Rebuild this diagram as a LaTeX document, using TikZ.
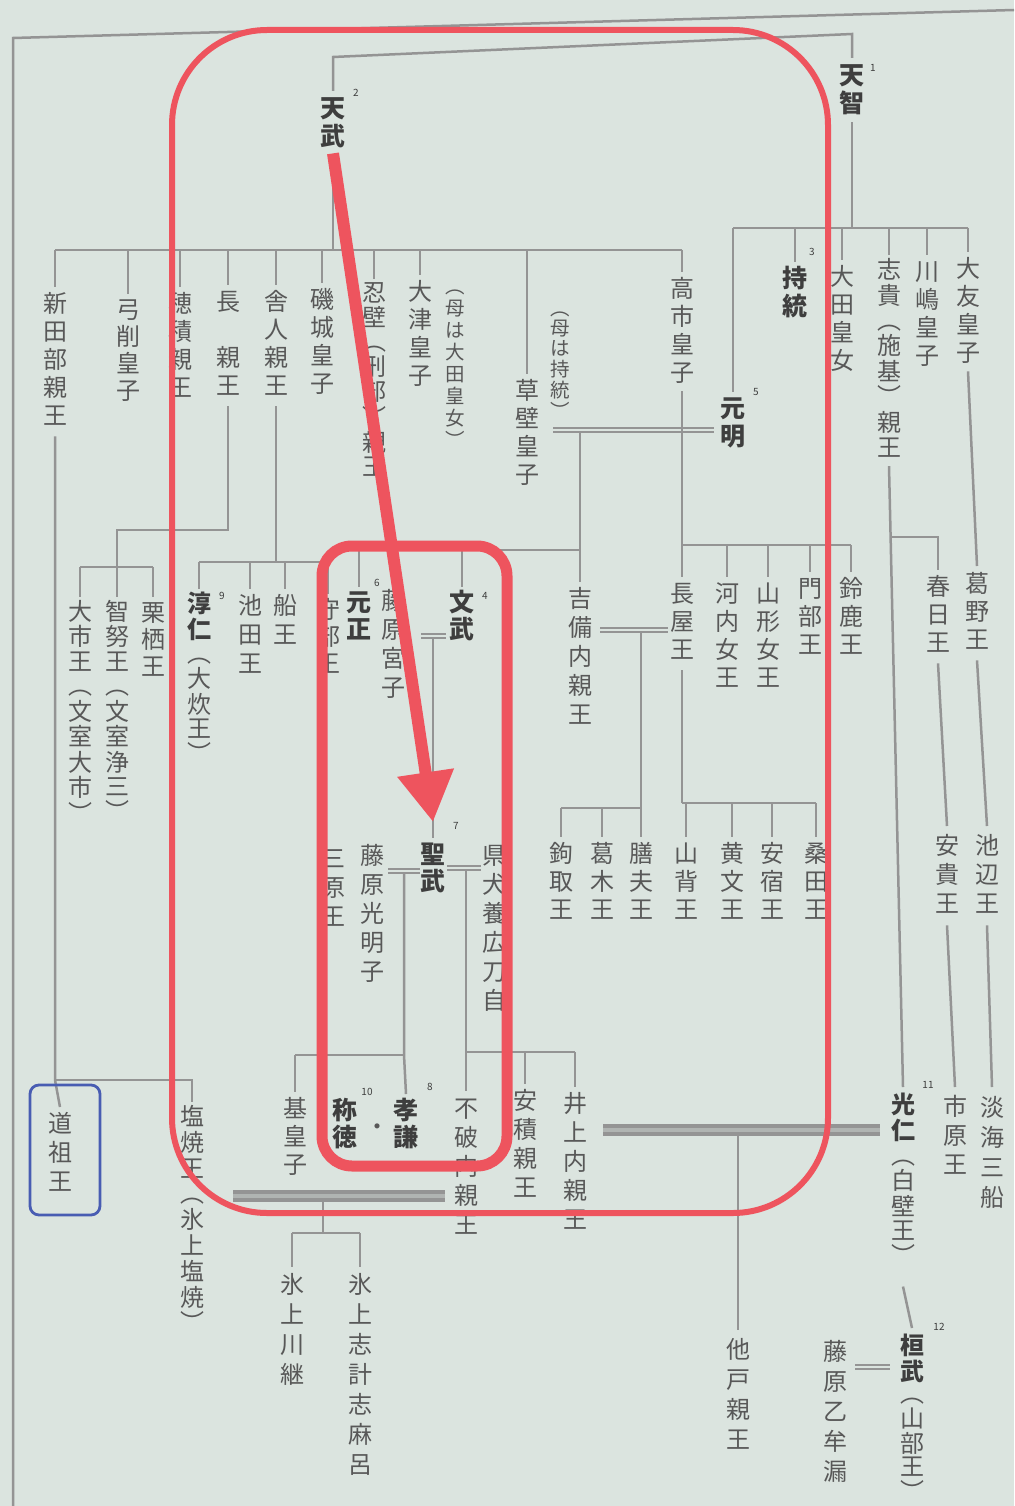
\documentclass[tikz,border=0pt]{standalone}
\usepackage{fontspec}
\newfontfamily\jp{Noto Sans CJK JP}
\usetikzlibrary{arrows.meta}
\definecolor{bg}{RGB}{219,228,223}
\definecolor{txtgray}{RGB}{88,88,88}
\definecolor{txtdark}{RGB}{62,62,62}
\definecolor{lngray}{RGB}{148,148,148}
\definecolor{redln}{RGB}{238,84,94}
\definecolor{boxblue}{RGB}{72,92,178}
\ExplSyntaxOn
\dim_new:N \l_tate_pitch_dim
\dim_set:Nn \l_tate_pitch_dim {28pt}
\NewDocumentCommand \tc { m }
  {
    \tl_map_inline:nn {#1}
      {
        \hbox_to_wd:nn { 1.05em }
          { \hss \vrule width 0pt height 0.78\l_tate_pitch_dim depth 0.22\l_tate_pitch_dim \relax ##1 \hss }
      }
  }
\NewDocumentCommand \col { O{28pt} m }
  {
    \vbox:n { \offinterlineskip \dim_set:Nn \l_tate_pitch_dim {#1} #2 }
  }
\ExplSyntaxOff
\tikzset{
  nm/.style={anchor=north, inner sep=0pt, text=txtgray, font=\jp\fontsize{24}{28}\selectfont},
  sm/.style={nm, font=\jp\fontsize{19.5}{22}\selectfont},
  emp/.style={nm, text=txtdark, font=\jp\bfseries\fontsize{25}{28}\selectfont},
  supn/.style={inner sep=0pt, text=txtdark, font=\jp\fontsize{10}{10}\selectfont},
  ln/.style={draw=lngray, line width=2.5pt},
  mar/.style={draw=lngray, line width=1.8pt, double=bg, double distance=2.6pt},
  band/.style={draw=lngray, line width=3.4pt, double=lngray!60!bg, double distance=4.5pt},
  redbox/.style={draw=redln, inner sep=0pt},
}
\newcommand\kdrop[2]{\draw[ln] (#2.north |- #1) -- ([yshift=3pt]#2.north);}
\begin{document}
\begin{tikzpicture}[x=1pt,y=-1pt]
\useasboundingbox (0,0) rectangle (1014,1506);
\clip (0,0) rectangle (1014,1506);
\fill[bg] (0,0) rectangle (1014,1506);

% ---------- nodes: generation 1 ----------
\node[emp] (tenji) at (852,62) {\col{\tc{天智}}};
\node[supn] (s1) at (873,68) {1};
\node[emp] (tenmu) at (333,95) {\col{\tc{天武}}};
\node[supn] (s2) at (356,93) {2};

% ---------- Tenmu's children ----------
\node[nm] (nitabe) at (55,290) {\col{\tc{新田部親王}}};
\node[nm] (yuge) at (128,297) {\col[27pt]{\tc{弓削皇子}}};
\node[nm] (hozumi) at (180,290) {\col{\tc{穂積親王}}};
\node[nm] (naga) at (228,288) {\col{\tc{長　親王}}};
\node[nm] (toneri) at (276,288) {\col{\tc{舎人親王}}};
\node[nm] (shikiko) at (322,286) {\col{\tc{磯城皇子}}};
\node[nm] (osakabe) at (374,282) {\col[24pt]{\tc{忍壁︵刑部︶親王}}};
\node[nm] (otsu) at (420,278) {\col{\tc{大津皇子}}};
\node[sm] (otsuhaha) at (455,276) {\col[22pt]{\tc{︵母は大田皇女︶}}};
\node[nm] (kusakabe) at (527,377) {\col{\tc{草壁皇子}}};
\node[sm] (kusahaha) at (560,300) {\col[20pt]{\tc{︵母は持統︶}}};
\node[nm] (takechi) at (682,275) {\col{\tc{高市皇子}}};

% ---------- Tenji's children ----------
\node[emp] (genmei) at (733,395) {\col{\tc{元明}}};
\node[supn] (s5) at (756,392) {5};
\node[emp] (jito) at (795,265) {\col{\tc{持統}}};
\node[supn] (s3) at (812,252) {3};
\node[nm] (ota) at (842,263) {\col{\tc{大田皇女}}};
\node[nm] (shikimiko) at (889,258) {\col[25pt]{\tc{志貴︵施基︶親王}}};
\node[nm] (kawashima) at (927,258) {\col{\tc{川嶋皇子}}};
\node[nm] (otomo) at (968,255) {\col{\tc{大友皇子}}};

% ---------- third row ----------
\node[nm] (oichi) at (80,600) {\col[24.3pt]{\tc{大市王︵文室大市︶}}};
\node[nm] (chinu) at (117,600) {\col[24.3pt]{\tc{智努王︵文室浄三︶}}};
\node[nm] (kurusu) at (153,600) {\col[27pt]{\tc{栗栖王}}};
\node[nm] (junnin) at (199,592) {\col[24pt]{\bfseries\color{txtdark}\tc{淳仁}\mdseries\color{txtgray}\tc{︵大炊王︶}}};
\node[supn] (s9) at (222,596) {9};
\node[nm] (ikeda) at (250,592) {\col[29pt]{\tc{池田王}}};
\node[nm] (funa) at (285,592) {\col[29pt]{\tc{船王}}};
\node[nm] (morobe) at (328,597) {\col[27pt]{\tc{守部王}}};
\node[emp] (gensho) at (359,590) {\col[27pt]{\tc{元正}}};
\node[supn] (s6) at (377,583) {6};
\node[nm] (miyako) at (393,587) {\col[29pt]{\tc{藤原宮子}}};
\node[emp] (monmu) at (462,590) {\col[27pt]{\tc{文武}}};
\node[supn] (s4) at (485,596) {4};
\node[nm] (kibi) at (580,585) {\col[29pt]{\tc{吉備内親王}}};
\node[nm] (nagaya) at (682,580) {\col{\tc{長屋王}}};
\node[nm] (kawachi) at (727,580) {\col{\tc{河内女王}}};
\node[nm] (yamagata) at (768,580) {\col{\tc{山形女王}}};
\node[nm] (kadobe) at (810,575) {\col{\tc{門部王}}};
\node[nm] (suzuka) at (851,575) {\col{\tc{鈴鹿王}}};
\node[nm] (kasuga) at (938,573) {\col{\tc{春日王}}};
\node[nm] (kadono) at (977,570) {\col{\tc{葛野王}}};

% ---------- fourth row ----------
\node[nm] (magari) at (561,840) {\col{\tc{鉤取王}}};
\node[nm] (kazuraki) at (602,840) {\col{\tc{葛木王}}};
\node[nm] (kashiwade) at (641,840) {\col{\tc{膳夫王}}};
\node[nm] (yamashiro) at (686,840) {\col{\tc{山背王}}};
\node[nm] (kibumi) at (732,840) {\col{\tc{黄文王}}};
\node[nm] (asukabe) at (772,840) {\col{\tc{安宿王}}};
\node[nm] (kuwata) at (816,840) {\col{\tc{桑田王}}};
\node[nm] (aki) at (947,832) {\col[29pt]{\tc{安貴王}}};
\node[nm] (ikebe) at (987,832) {\col[29pt]{\tc{池辺王}}};
\node[nm] (mihara) at (333,845) {\col[29pt]{\tc{三原王}}};
\node[nm] (komyo) at (372,842) {\col[29pt]{\tc{藤原光明子}}};
\node[emp] (shomu) at (433,842) {\col[27pt]{\tc{聖武}}};
\node[supn] (s7) at (456,826) {7};
\node[nm] (hirotoji) at (494,842) {\col[29pt]{\tc{県犬養広刀自}}};

% ---------- fifth row ----------
\node[nm] (dosono) at (60,1110) {\col[29pt]{\tc{道祖王}}};
\node[nm] (shioyaki) at (192,1105) {\col[25.8pt]{\tc{塩焼王︵氷上塩焼︶}}};
\node[nm] (motoo) at (295,1095) {\col{\tc{基皇子}}};
\node[emp] (shotoku) at (345,1098) {\col[27pt]{\tc{称徳}}};
\node[supn] (s10) at (367,1092) {10};
\node[nm] (nakaguro) at (377,1124) {・};
\node[emp] (koken) at (406,1098) {\col[27pt]{\tc{孝謙}}};
\node[supn] (s8) at (430,1087) {8};
\node[nm] (fuwa) at (466,1095) {\col[29pt]{\tc{不破内親王}}};
\node[nm] (asaka) at (525,1087) {\col[29pt]{\tc{安積親王}}};
\node[nm] (inoue) at (575,1090) {\col[29pt]{\tc{井上内親王}}};
\node[nm] (konin) at (903,1093) {\col[24.5pt]{\bfseries\color{txtdark}\tc{光仁}\mdseries\color{txtgray}\tc{︵白壁王︶}}};
\node[supn] (s11) at (928,1085) {11};
\node[nm] (ichihara) at (955,1093) {\col[29pt]{\tc{市原王}}};
\node[nm] (mifune) at (992,1093) {\col[30pt]{\tc{淡海三船}}};

% ---------- sixth row ----------
\node[nm] (kawatsugu) at (292,1270) {\col[30pt]{\tc{氷上川継}}};
\node[nm] (shikeshi) at (360,1270) {\col[30pt]{\tc{氷上志計志麻呂}}};
\node[nm] (osabe) at (738,1335) {\col[30pt]{\tc{他戸親王}}};
\node[nm] (otomuro) at (835,1337) {\col[30pt]{\tc{藤原乙牟漏}}};
\node[nm] (kanmu) at (912,1334) {\col[22.5pt]{\bfseries\color{txtdark}\tc{桓武}\mdseries\color{txtgray}\tc{︵山部王︶}}};
\node[supn] (s12) at (939,1327) {12};

% ---------- coordinates ----------
\coordinate (edgeB) at (13,1506);
\coordinate (edgeT) at (13,38);
\coordinate (edgeR) at (1014,10);
\coordinate (tmbar) at (0,250);
\coordinate (tjbar) at (0,228);
\coordinate (nbar1) at (0,530);
\coordinate (nbar2) at (0,567);
\coordinate (tobar) at (0,562);
\coordinate (kgbar) at (0,550);
\coordinate (tkbar) at (0,545);
\coordinate (kcbar2) at (0,808);
\coordinate (nybar) at (0,803);
\coordinate (kcbar) at (0,1055);
\coordinate (hcbar) at (0,1052);
\coordinate (shbar) at (0,1080);
\coordinate (kwbar) at (0,1233);
\coordinate (kgL) at (553,430);
\coordinate (kgR) at (714,430);
\coordinate (kgM) at (580,430);
\coordinate (mmL) at (421,636);
\coordinate (mmR) at (446,636);
\coordinate (mmM) at (433,636);
\coordinate (knL) at (600,630);
\coordinate (knR) at (668,630);
\coordinate (knM) at (641,630);
\coordinate (ksL) at (388,871);
\coordinate (ksR) at (420,871);
\coordinate (ksM) at (404,871);
\coordinate (shL) at (447,868);
\coordinate (shR) at (481,868);
\coordinate (shM) at (466,868);
\coordinate (sfL) at (233,1196);
\coordinate (sfR) at (445,1196);
\coordinate (sfM) at (323,1196);
\coordinate (ikL) at (603,1130);
\coordinate (ikR) at (880,1130);
\coordinate (ikM) at (738,1130);
\coordinate (okL) at (855,1367);
\coordinate (okR) at (890,1367);
\coordinate (kgj) at (892,537);

% ---------- connectors ----------
\draw[ln] (edgeB) -- (edgeT) -- (edgeR);
\draw[ln] ([yshift=4pt]tenmu.north) -- (tenmu.north |- 0,57) -- (tenji.north |- 0,34) -- ([yshift=4pt]tenji.north);

% Tenmu children
\draw[ln] ([yshift=-4pt]tenmu.south) -- (tenmu.south |- tmbar);
\draw[ln] (nitabe.north |- tmbar) -- (takechi.north |- tmbar);
\kdrop{tmbar}{nitabe}\kdrop{tmbar}{yuge}\kdrop{tmbar}{hozumi}\kdrop{tmbar}{naga}
\kdrop{tmbar}{toneri}\kdrop{tmbar}{shikiko}\kdrop{tmbar}{osakabe}\kdrop{tmbar}{otsu}
\kdrop{tmbar}{kusakabe}\kdrop{tmbar}{takechi}

% Tenji children
\draw[ln] ([yshift=-4pt]tenji.south) -- (tenji.south |- tjbar);
\draw[ln] (genmei.north |- tjbar) -- (otomo.north |- tjbar);
\kdrop{tjbar}{genmei}\kdrop{tjbar}{jito}\kdrop{tjbar}{ota}\kdrop{tjbar}{shikimiko}
\kdrop{tjbar}{kawashima}\kdrop{tjbar}{otomo}

% Naga's children
\draw[ln] ([yshift=-6pt]naga.south) -- (naga.south |- nbar1) -- (chinu.north |- nbar1) -- (chinu.north |- nbar2);
\draw[ln] (oichi.north |- nbar2) -- (kurusu.north |- nbar2);
\kdrop{nbar2}{oichi}\kdrop{nbar2}{chinu}\kdrop{nbar2}{kurusu}

% Toneri's children
\draw[ln] ([yshift=-6pt]toneri.south) -- (toneri.south |- tobar);
\draw[ln] (junnin.north |- tobar) -- (morobe.north |- tobar);
\kdrop{tobar}{junnin}\kdrop{tobar}{ikeda}\kdrop{tobar}{funa}\kdrop{tobar}{morobe}

% Kusakabe = Genmei
\draw[mar] (kgL) -- (kgR);
\draw[ln] ([yshift=-3pt]kgM) -- (kgM |- kgbar);
\draw[ln] (gensho.north |- kgbar) -- (kgM |- kgbar);
\kdrop{kgbar}{gensho}\kdrop{kgbar}{monmu}\kdrop{kgbar}{kibi}

% Takechi's children
\draw[ln] ([yshift=-4pt]takechi.south) -- (takechi.south |- tkbar);
\draw[ln] (nagaya.north |- tkbar) -- (suzuka.north |- tkbar);
\kdrop{tkbar}{nagaya}\kdrop{tkbar}{kawachi}\kdrop{tkbar}{yamagata}\kdrop{tkbar}{kadobe}\kdrop{tkbar}{suzuka}

% Kibi = Nagaya
\draw[mar] (knL) -- (knR);
\draw[ln] ([yshift=-3pt]knM) -- (knM |- kcbar2);
\draw[ln] (magari.north |- kcbar2) -- (knM |- kcbar2);
\kdrop{kcbar2}{magari}\kdrop{kcbar2}{kazuraki}\kdrop{kcbar2}{kashiwade}
\draw[ln] ([yshift=-6pt]nagaya.south) -- (nagaya.south |- nybar);
\draw[ln] (nagaya.south |- nybar) -- (kuwata.north |- nybar);
\kdrop{nybar}{yamashiro}\kdrop{nybar}{kibumi}\kdrop{nybar}{asukabe}\kdrop{nybar}{kuwata}

% Shiki line
\draw[ln] ([yshift=-4pt]shikimiko.south) -- ([yshift=6pt]konin.north);
\draw[ln] (kgj) -- (kasuga.north |- kgj) -- ([yshift=3pt]kasuga.north);
\draw[ln] ([yshift=-6pt]kasuga.south) -- ([yshift=6pt]aki.north);
\draw[ln] ([yshift=-6pt]aki.south) -- ([yshift=6pt]ichihara.north);
\draw[ln] ([yshift=-4pt]otomo.south) -- ([yshift=4pt]kadono.north);
\draw[ln] ([yshift=-6pt]kadono.south) -- ([yshift=6pt]ikebe.north);
\draw[ln] ([yshift=-6pt]ikebe.south) -- ([yshift=6pt]mifune.north);

% Monmu = Miyako
\draw[mar] (mmL) -- (mmR);
\draw[ln] ([yshift=-3pt]mmM) -- ([yshift=4pt]shomu.north);

% Shomu = Komyo
\draw[mar] (ksL) -- (ksR);
\draw[ln] ([yshift=-3pt]ksM) -- (ksM |- kcbar) -- ([yshift=4pt]koken.north);
\draw[ln] (motoo.north |- kcbar) -- (ksM |- kcbar);
\kdrop{kcbar}{motoo}

% Shomu = Hirotoji
\draw[mar] (shL) -- (shR);
\draw[ln] ([yshift=-3pt]shM) -- ([yshift=4pt]fuwa.north);
\draw[ln] (shM |- hcbar) -- (inoue.north |- hcbar);
\kdrop{hcbar}{asaka}\kdrop{hcbar}{inoue}

% Nitabe line
\draw[ln] ([yshift=-6pt]nitabe.south) -- (nitabe.south |- shbar) -- ([yshift=3pt]dosono.north);
\draw[ln] (nitabe.south |- shbar) -- (shioyaki.north |- shbar) -- ([yshift=3pt]shioyaki.north);

% Shioyaki = Fuwa
\draw[band] (sfL) -- (sfR);
\draw[ln] ([yshift=-5pt]sfM) -- (sfM |- kwbar);
\draw[ln] (kawatsugu.north |- kwbar) -- (shikeshi.north |- kwbar);
\kdrop{kwbar}{kawatsugu}\kdrop{kwbar}{shikeshi}

% Inoue = Konin
\draw[band] (ikL) -- (ikR);
\draw[ln] ([yshift=-5pt]ikM) -- ([yshift=5pt]osabe.north);
\draw[ln] ([yshift=-16pt]konin.south) -- ([yshift=6pt]kanmu.north);
\draw[mar] (okL) -- (okR);

% ---------- annotations ----------
\node[draw=boxblue, line width=2.8pt, rounded corners=9pt, minimum width=70pt, minimum height=130pt, inner sep=0pt] (dbox) at (65,1150) {};
\node[redbox, line width=6pt, rounded corners=95pt, minimum width=656pt, minimum height=1183pt] (bigframe) at (500,621.5) {};
\node[redbox, line width=11pt, rounded corners=30pt, minimum width=185pt, minimum height=620pt] (innerframe) at (414.5,856) {};
\draw[draw=redln, line width=12pt, -{Triangle[length=50pt,width=54pt]}] ([yshift=-2pt]tenmu.south) -- ([yshift=20pt]shomu.north);
\end{tikzpicture}
\end{document}
